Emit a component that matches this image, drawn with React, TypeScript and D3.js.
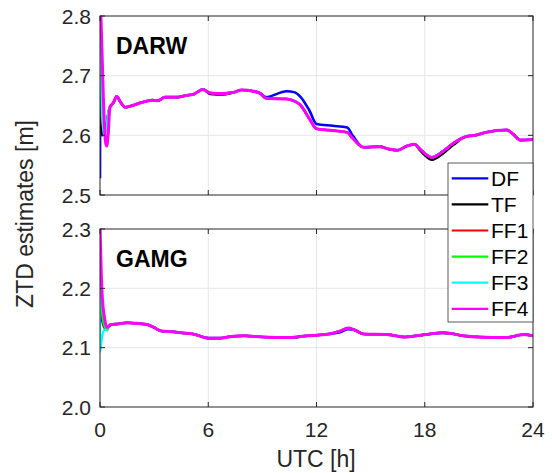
import React from "react";
import * as d3 from "d3";

type Pt = [number, number];

// hour ticks shared by both panels
const hourTicks = [0, 6, 12, 18, 24];
const darwTicks = [2.5, 2.6, 2.7, 2.8];
const gamgTicks = [2.0, 2.1, 2.2, 2.3];

const seriesNames = ["DF", "TF", "FF1", "FF2", "FF3", "FF4"];
const seriesColors = ["#0000ff", "#000000", "#ff0000", "#00ff00", "#00ffff", "#ff00ff"];
const seriesWidths = [2.6, 2.2, 2, 2, 2.2, 3];

// DARW: common solution after convergence (read from FF4)
const darwBase: Pt[] = [
  [0.03, 2.82], [0.2, 2.65], [0.3, 2.59], [0.37, 2.582], [0.45, 2.6], [0.55, 2.647],
  [0.75, 2.655], [0.92, 2.665], [1.15, 2.655], [1.4, 2.647], [1.8, 2.65], [2.3, 2.655],
  [2.9, 2.659], [3.2, 2.658], [3.6, 2.664], [4.3, 2.664], [4.8, 2.667], [5.2, 2.669],
  [5.7, 2.677], [6.1, 2.671], [6.8, 2.67], [7.4, 2.672], [7.85, 2.676], [8.5, 2.674],
  [8.9, 2.67], [9.2, 2.662], [10.35, 2.661], [10.8, 2.657], [11.1, 2.651], [11.6, 2.628],
  [12.0, 2.611], [12.9, 2.608], [13.7, 2.605], [14.0, 2.595], [14.6, 2.58], [15.5, 2.581],
  [16.0, 2.577], [16.5, 2.575], [17.0, 2.582], [17.45, 2.585], [17.7, 2.578], [18.4, 2.563],
  [19.0, 2.573], [19.6, 2.587], [20.3, 2.598], [20.8, 2.6], [21.4, 2.605], [22.55, 2.609],
  [22.9, 2.602], [23.3, 2.592], [24.0, 2.593],
];

// DARW start-up transients per series
const darwHeadDF: Pt[] = [[0, 2.528], [0.02, 2.708], [0.1, 2.603], [0.3, 2.61], [0.5, 2.642]];
const darwHeadTF: Pt[] = [[0, 2.63], [0.1, 2.6], [0.3, 2.608], [0.5, 2.643]];
const darwHeadFF1: Pt[] = [[0, 2.8], [0.12, 2.62], [0.3, 2.605], [0.5, 2.643]];
const darwHeadFF2: Pt[] = [[0, 2.82], [0.12, 2.63], [0.3, 2.607], [0.5, 2.644]];
const darwHeadFF3: Pt[] = [[0, 2.82], [0.1, 2.66], [0.2, 2.6], [0.35, 2.612], [0.5, 2.645]];
const darwHeadFF4: Pt[] = [];

// DARW deviations from the common solution
const darwDevDF: Pt[] = [
  [9.2, 2.664], [9.6, 2.671], [10.35, 2.674], [10.8, 2.672], [11.1, 2.665],
  [11.6, 2.642], [12.0, 2.619], [12.9, 2.616], [13.7, 2.613], [14.0, 2.6],
];
const darwDevTF: Pt[] = [[6.1, 2.669], [6.8, 2.668], [17.7, 2.576], [18.4, 2.559], [19.0, 2.569], [19.6, 2.584]];

// GAMG: common solution (read from FF4)
const gamgBase: Pt[] = [
  [0, 2.31], [0.1, 2.2], [0.25, 2.15], [0.4, 2.134], [0.6, 2.139], [1.0, 2.14],
  [1.5, 2.142], [2.0, 2.141], [2.6, 2.139], [3.0, 2.134], [3.4, 2.128], [4.0, 2.127],
  [4.5, 2.125], [5.3, 2.122], [5.7, 2.118], [6.0, 2.116], [6.6, 2.116], [7.3, 2.119],
  [8.0, 2.12], [9.0, 2.118], [10.5, 2.117], [11.5, 2.12], [12.0, 2.121], [12.7, 2.123],
  [13.3, 2.128], [13.75, 2.133], [14.1, 2.13], [14.6, 2.123], [15.9, 2.122], [16.9, 2.118],
  [18.0, 2.122], [19.0, 2.125], [19.5, 2.124], [20.1, 2.12], [21.0, 2.118], [22.5, 2.117],
  [23.5, 2.122], [24.0, 2.12],
];

const gamgHeadDF: Pt[] = [[0, 2.19], [0.1, 2.15], [0.3, 2.132], [0.5, 2.136]];
const gamgHeadTF: Pt[] = [[0, 2.18], [0.2, 2.14], [0.4, 2.131], [0.5, 2.136]];
const gamgHeadFF1: Pt[] = [[0, 2.2], [0.2, 2.14], [0.4, 2.131], [0.5, 2.136]];
const gamgHeadFF2: Pt[] = [[0, 2.2], [0.2, 2.14], [0.4, 2.129], [0.5, 2.136]];
const gamgHeadFF3: Pt[] = [[0, 2.2], [0.01, 2.093], [0.1, 2.115], [0.25, 2.13], [0.4, 2.131], [0.5, 2.136]];
const gamgHeadFF4: Pt[] = [];

const gamgDevDF: Pt[] = [[13.3, 2.126], [13.75, 2.131]];

function build(base: Pt[], head: Pt[], dev: Pt[]): Pt[] {
  const end = head.length ? head[head.length - 1][0] : -1;
  const devMap = new Map(dev.map((d) => [d[0], d[1]]));
  const rest = base
    .filter((p) => p[0] > end)
    .map((p) => [p[0], devMap.has(p[0]) ? (devMap.get(p[0]) as number) : p[1]] as Pt);
  return head.concat(rest);
}

const darwSeries = [
  build(darwBase, darwHeadDF, darwDevDF),
  build(darwBase, darwHeadTF, darwDevTF),
  build(darwBase, darwHeadFF1, []),
  build(darwBase, darwHeadFF2, []),
  build(darwBase, darwHeadFF3, []),
  build(darwBase, darwHeadFF4, []),
];

const gamgSeries = [
  build(gamgBase, gamgHeadDF, gamgDevDF),
  build(gamgBase, gamgHeadTF, []),
  build(gamgBase, gamgHeadFF1, []),
  build(gamgBase, gamgHeadFF2, []),
  build(gamgBase, gamgHeadFF3, []),
  build(gamgBase, gamgHeadFF4, []),
];

const FONT = "'Liberation Sans', Arial, Helvetica, sans-serif";
const INK = "#262626";

const left = 100;
const right = 533;

const x = d3.scaleLinear().domain([0, 24]).range([left, right]);

interface PanelProps {
  id: string;
  label: string;
  top: number;
  bottom: number;
  domain: [number, number];
  ticks: number[];
  series: Pt[][];
}

const Panel: React.FC<PanelProps> = ({ id, label, top, bottom, domain, ticks, series }) => {
  const y = d3.scaleLinear().domain(domain).range([bottom, top]);
  const line = d3
    .line<Pt>()
    .x((d) => x(d[0]))
    .y((d) => y(d[1]))
    .curve(d3.curveMonotoneX);
  const tickLen = 5;
  return (
    <g>
      <defs>
        <clipPath id={`clip-${id}`}>
          <rect x={left} y={top} width={right - left} height={bottom - top} />
        </clipPath>
      </defs>
      <rect x={left} y={top} width={right - left} height={bottom - top} fill="#fff" />
      {/* grid */}
      {hourTicks.slice(1, -1).map((h) => (
        <line key={`gx${h}`} x1={x(h)} x2={x(h)} y1={top} y2={bottom} stroke="#e6e6e6" strokeWidth={1} />
      ))}
      {ticks.slice(1, -1).map((v) => (
        <line key={`gy${v}`} x1={left} x2={right} y1={y(v)} y2={y(v)} stroke="#e6e6e6" strokeWidth={1} />
      ))}
      {/* data */}
      <g clipPath={`url(#clip-${id})`}>
        {series.map((s, i) => (
          <path
            key={seriesNames[i]}
            d={line(s) || ""}
            fill="none"
            stroke={seriesColors[i]}
            strokeWidth={seriesWidths[i]}
            strokeLinejoin="round"
          />
        ))}
      </g>
      {/* box and ticks */}
      <rect x={left} y={top} width={right - left} height={bottom - top} fill="none" stroke={INK} strokeWidth={1} />
      {hourTicks.map((h) => (
        <g key={`tx${h}`}>
          <line x1={x(h)} x2={x(h)} y1={bottom} y2={bottom - tickLen} stroke={INK} />
          <line x1={x(h)} x2={x(h)} y1={top} y2={top + tickLen} stroke={INK} />
        </g>
      ))}
      {ticks.map((v) => (
        <g key={`ty${v}`}>
          <line x1={left} x2={left + tickLen} y1={y(v)} y2={y(v)} stroke={INK} />
          <line x1={right} x2={right - tickLen} y1={y(v)} y2={y(v)} stroke={INK} />
          <text
            x={left - 9}
            y={y(v)}
            dy="0.36em"
            textAnchor="end"
            fontFamily={FONT}
            fontSize={21}
            fill={INK}
          >
            {v.toFixed(1)}
          </text>
        </g>
      ))}
      <text x={116} y={top + 38} fontFamily={FONT} fontSize={23} fontWeight="bold" fill="#000">
        {label}
      </text>
    </g>
  );
};

const Legend: React.FC = () => {
  const bx = 448;
  const by = 163;
  const rowH = 26.1;
  const first = 178.3;
  return (
    <g>
      <rect x={bx} y={by} width={85} height={159} fill="#fff" stroke="#333" strokeWidth={0.8} />
      {seriesNames.map((n, i) => (
        <g key={n}>
          <line
            x1={451.7}
            x2={488.3}
            y1={first + i * rowH}
            y2={first + i * rowH}
            stroke={seriesColors[i]}
            strokeWidth={2.2}
          />
          <text x={491} y={first + i * rowH} dy="0.36em" fontFamily={FONT} fontSize={21} fill="#000">
            {n}
          </text>
        </g>
      ))}
    </g>
  );
};

export default function App() {
  return (
    <svg
      width={552}
      height={473}
      style={{ position: "absolute", left: 0, top: 0, background: "#fff" }}
    >
      <rect width={552} height={473} fill="#fff" />
      <Panel id="darw" label="DARW" top={16} bottom={195} domain={[2.5, 2.8]} ticks={darwTicks} series={darwSeries} />
      <Panel id="gamg" label="GAMG" top={229} bottom={407} domain={[2.0, 2.3]} ticks={gamgTicks} series={gamgSeries} />
      <Legend />
      {hourTicks.map((h) => (
        <text key={h} x={x(h)} y={437} textAnchor="middle" fontFamily={FONT} fontSize={21} fill={INK}>
          {h}
        </text>
      ))}
      <text x={316} y={467} textAnchor="middle" fontFamily={FONT} fontSize={23} fill={INK}>
        UTC [h]
      </text>
      <text
        transform="translate(33,214) rotate(-90)"
        textAnchor="middle"
        fontFamily={FONT}
        fontSize={23}
        fill={INK}
      >
        ZTD estimates [m]
      </text>
    </svg>
  );
}
